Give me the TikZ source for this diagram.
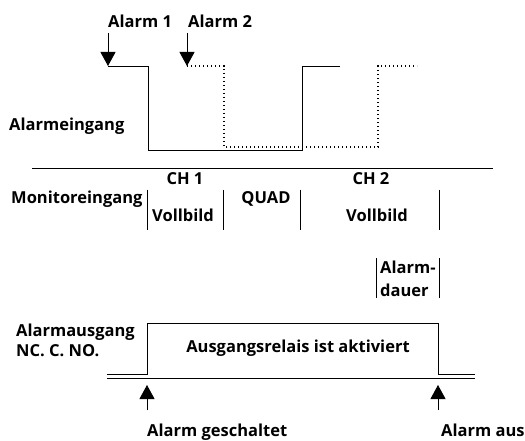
\documentclass[tikz,border=0pt]{standalone}
\usepackage{fontspec}
\setmainfont{Open Sans}
\usetikzlibrary{positioning, arrows.meta, calc}

\begin{document}
\begin{tikzpicture}[x=1pt, y=-1pt,
        txt/.style={font=\bfseries\fontsize{16.5}{20}\selectfont, inner sep=0pt},
        signal/.style={line width=0.9pt},
        dotsig/.style={line width=1.4pt, dash pattern=on 1.4pt off 2.6pt},
        bar/.style={line width=0.9pt},
        marker/.style={line width=0.9pt, -{Triangle[length=14pt, width=15pt]}}
    ]
        \useasboundingbox (0,0) rectangle (525,441);

        % Alarm inputs
        \node[txt, anchor=base west] (alarm1) at (108,28) {Alarm 1};
        \node[txt, anchor=base west] (alarm2) at (188,28) {Alarm 2};
        \coordinate (a1top) at (108,33);
        \coordinate (a1tip) at (108,66);
        \coordinate (a2top) at (187,33);
        \coordinate (a2tip) at (187,66);
        \draw[marker] (a1top) -- (a1tip);
        \draw[marker] (a2top) -- (a2tip);

        \node[txt, anchor=base west] (eingang) at (9,131) {Alarmeingang};

        % Signal of alarm 1 (solid) and alarm 2 (dotted)
        \draw[signal] (108,66) -- (148,66) -- (148,150) -- (302,150) -- (302,66) -- (340,66);
        \draw[dotsig] (187,66) -- (224,66) -- (224,147) -- (378,147) -- (378,66) -- (417,66);

        % Separator
        \draw[bar] (32,168) -- (493,168);

        % Monitor input
        \node[txt, anchor=base west] (monitor) at (11,204) {Monitoreingang};
        \node[txt, anchor=base] (ch1) at (185,185) {CH 1};
        \node[txt, anchor=base] (voll1) at (183,222) {Vollbild};
        \node[txt, anchor=base] (quad) at (266,204) {QUAD};
        \node[txt, anchor=base] (ch2) at (371,185) {CH 2};
        \node[txt, anchor=base] (voll2) at (377,222) {Vollbild};
        \foreach \x in {147,223,300,439} {
            \draw[bar] (\x,190) -- (\x,230);
        }

        % Alarm duration
        \node[txt, anchor=base west] (dauer1) at (380,273) {Alarm-};
        \node[txt, anchor=base west] (dauer2) at (380,296) {dauer};
        \foreach \x in {376,439} {
            \draw[bar] (\x,258) -- (\x,298);
        }

        % Alarm output
        \node[txt, anchor=base west] (ausgang) at (16,336) {Alarmausgang};
        \node[txt, anchor=base west] (ncno) at (16,356) {NC. C. NO.};
        \draw[signal] (107,374) -- (147,374) -- (147,323) -- (438,323) -- (438,374) -- (475,374);
        \draw[signal] (107,378) -- (475,378);
        \node[txt, anchor=base] (relais) at (298,352) {Ausgangsrelais ist aktiviert};

        % Switching points
        \coordinate (onbot) at (147,410);
        \coordinate (ontip) at (147,385);
        \coordinate (offbot) at (438,410);
        \coordinate (offtip) at (438,385);
        \draw[marker] (onbot) -- (ontip);
        \draw[marker] (offbot) -- (offtip);
        \node[txt, anchor=base west] (ein) at (147,436) {Alarm geschaltet};
        \node[txt, anchor=base west] (aus) at (441,436) {Alarm aus};
    \end{tikzpicture}
\end{document}
